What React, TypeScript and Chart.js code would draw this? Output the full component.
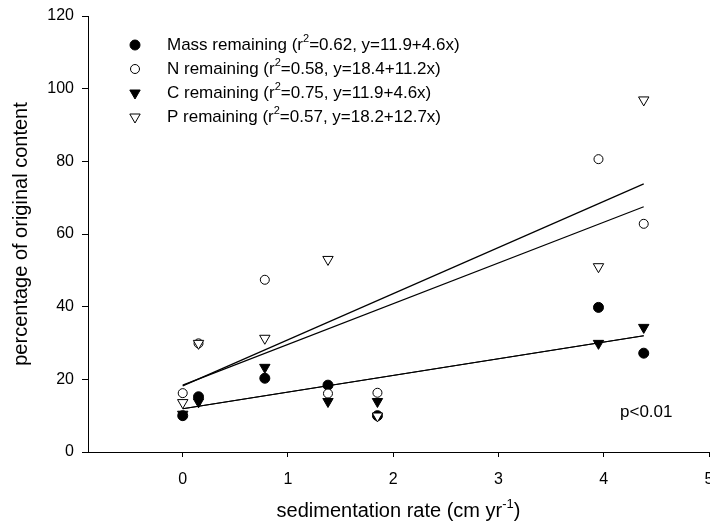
import React, { useEffect, useRef } from 'react';
import { Chart, registerables } from 'chart.js';

Chart.register(...registerables);

// ---- data ----
const sedimentationRate = [0, 0.15, 0.78, 1.38, 1.85, 3.95, 4.38];
const massRemaining = [10.0, 15.2, 20.3, 18.4, 10.0, 39.8, 27.2];
const nRemaining = [16.2, 29.9, 47.4, 16.1, 16.3, 80.6, 62.8];
const cRemaining = [10.4, 13.8, 23.3, 13.9, 13.9, 29.9, 34.3];
const pRemaining = [13.6, 29.9, 31.3, 53.0, 9.9, 51.0, 96.9];

// regression line end points (x from 0 to 4.38)
const fitX = [0, 4.38];
const massFit = [11.9, 32.0];
const nFit = [18.4, 67.5];
const cFit = [11.9, 32.0];
const pFit = [18.2, 73.8];

const xTicks = [0, 1, 2, 3, 4, 5];
const yTicks = [0, 20, 40, 60, 80, 100, 120];

const seriesNames = ['Mass remaining', 'N remaining', 'C remaining', 'P remaining'];
const seriesR2 = ['0.62', '0.58', '0.75', '0.57'];
const seriesEq = ['y=11.9+4.6x', 'y=18.4+11.2x', 'y=11.9+4.6x', 'y=18.2+12.7x'];

const xTitle = 'sedimentation rate (cm yr';
const xTitleSup = '-1';
const yTitle = 'percentage of original content';
const pText = 'p<0.01';

const FONT = "'Liberation Sans', Arial, Helvetica, sans-serif";

type MarkerStyle = { shape: 'circle' | 'triangle'; filled: boolean };
const markerStyles: MarkerStyle[] = [
  { shape: 'circle', filled: true },
  { shape: 'circle', filled: false },
  { shape: 'triangle', filled: true },
  { shape: 'triangle', filled: false },
];

function toPoints(xs: number[], ys: number[]) {
  return xs.map((x, i) => ({ x, y: ys[i] }));
}

function drawMarker(ctx: CanvasRenderingContext2D, m: MarkerStyle, x: number, y: number) {
  ctx.save();
  ctx.lineWidth = 1;
  ctx.strokeStyle = '#000';
  ctx.fillStyle = m.filled ? '#000' : '#fff';
  ctx.beginPath();
  if (m.shape === 'circle') {
    ctx.arc(x, y, m.filled ? 5 : 4.5, 0, Math.PI * 2);
  } else {
    const r = 6;
    ctx.moveTo(x, y + r);
    ctx.lineTo(x - r * Math.sin(Math.PI / 3), y - r / 2);
    ctx.lineTo(x + r * Math.sin(Math.PI / 3), y - r / 2);
    ctx.closePath();
  }
  ctx.fill();
  ctx.stroke();
  ctx.restore();
}

type Part = { t: string; sup?: boolean };
function richWidth(ctx: CanvasRenderingContext2D, parts: Part[], size: number, supSize: number) {
  let w = 0;
  for (const p of parts) {
    ctx.font = `${p.sup ? supSize : size}px ${FONT}`;
    w += ctx.measureText(p.t).width;
  }
  return w;
}
function drawRich(ctx: CanvasRenderingContext2D, parts: Part[], x: number, y: number, size: number, supSize: number, rise: number) {
  ctx.textAlign = 'left';
  ctx.textBaseline = 'middle';
  let cx = x;
  for (const p of parts) {
    ctx.font = `${p.sup ? supSize : size}px ${FONT}`;
    ctx.fillText(p.t, cx, p.sup ? y - rise : y);
    cx += ctx.measureText(p.t).width;
  }
}

const textPlugin = {
  id: 'textPlugin',
  afterDraw(chart: any) {
    const ctx: CanvasRenderingContext2D = chart.ctx;
    const area = chart.chartArea;
    ctx.save();
    ctx.fillStyle = '#000';

    // legend
    const mx = area.left + 47;
    const tx = area.left + 79;
    const y0 = area.top + 29;
    const dy = 24;
    seriesNames.forEach((name, i) => {
      const y = y0 + i * dy;
      drawMarker(ctx, markerStyles[i], mx, y);
      ctx.fillStyle = '#000';
      drawRich(
        ctx,
        [
          { t: `${name} (r` },
          { t: '2', sup: true },
          { t: `=${seriesR2[i]}, ${seriesEq[i]})` },
        ],
        tx,
        y,
        17,
        11,
        6
      );
    });

    // p value
    ctx.fillStyle = '#000';
    ctx.font = `17px ${FONT}`;
    ctx.textAlign = 'left';
    ctx.textBaseline = 'middle';
    ctx.fillText(pText, area.left + 532, area.bottom - 40);

    // x title
    const xParts: Part[] = [{ t: xTitle }, { t: xTitleSup, sup: true }, { t: ')' }];
    const w = richWidth(ctx, xParts, 20, 13);
    const cx = (area.left + area.right) / 2;
    drawRich(ctx, xParts, cx - w / 2, chart.height - 18, 20, 13, 7);

    // y title
    ctx.save();
    ctx.translate(21, (area.top + area.bottom) / 2);
    ctx.rotate(-Math.PI / 2);
    ctx.font = `20px ${FONT}`;
    ctx.textAlign = 'center';
    ctx.textBaseline = 'middle';
    ctx.fillText(yTitle, 0, 0);
    ctx.restore();

    ctx.restore();
  },
};

export default function App() {
  const canvasRef = useRef<HTMLCanvasElement | null>(null);

  useEffect(() => {
    document.body.style.margin = '0';
    const canvas = canvasRef.current;
    if (!canvas) return;

    const lineDs = (label: string, ys: number[]) => ({
      type: 'scatter' as const,
      label,
      data: toPoints(fitX, ys),
      showLine: true,
      borderColor: '#000',
      borderWidth: 1.2,
      pointRadius: 0,
      pointHoverRadius: 0,
      fill: false,
      order: 10,
    });

    const pointDs = (label: string, ys: number[], m: MarkerStyle, order: number) => ({
      type: 'scatter' as const,
      label,
      data: toPoints(sedimentationRate, ys),
      showLine: false,
      pointStyle: m.shape,
      rotation: m.shape === 'triangle' ? 180 : 0,
      pointRadius: m.shape === 'triangle' ? 6 : m.filled ? 5 : 4.5,
      pointBorderWidth: 1,
      pointBorderColor: '#000',
      pointBackgroundColor: m.filled ? '#000' : '#fff',
      borderColor: '#000',
      backgroundColor: m.filled ? '#000' : '#fff',
      order,
    });

    const chart = new Chart(canvas, {
      type: 'scatter',
      data: {
        datasets: [
          lineDs('Mass fit', massFit),
          lineDs('N fit', nFit),
          lineDs('C fit', cFit),
          lineDs('P fit', pFit),
          pointDs(seriesNames[0], massRemaining, markerStyles[0], 4),
          pointDs(seriesNames[1], nRemaining, markerStyles[1], 3),
          pointDs(seriesNames[2], cRemaining, markerStyles[2], 2),
          pointDs(seriesNames[3], pRemaining, markerStyles[3], 1),
        ],
      },
      options: {
        responsive: false,
        animation: false,
        events: [],
        layout: { autoPadding: false, padding: { top: 16, right: 1, left: 0, bottom: 0 } },
        plugins: {
          legend: { display: false },
          tooltip: { enabled: false },
          title: { display: false },
        },
        scales: {
          x: {
            type: 'linear',
            min: -0.9,
            max: 5,
            afterBuildTicks: (s: any) => {
              s.ticks = xTicks.map((v) => ({ value: v }));
            },
            afterFit: (s: any) => {
              s.height = 77;
              s.paddingLeft = 0;
              s.paddingRight = 0;
            },
            grid: {
              display: true,
              drawOnChartArea: false,
              drawTicks: true,
              tickLength: 5,
              color: '#000',
              tickColor: '#000',
              lineWidth: 1,
            },
            border: { display: true, color: '#000', width: 1 },
            ticks: {
              color: '#000',
              font: { family: FONT, size: 16 },
              padding: 13,
              maxRotation: 0,
              autoSkip: false,
            },
          },
          y: {
            type: 'linear',
            min: 0,
            max: 120,
            afterBuildTicks: (s: any) => {
              s.ticks = yTicks.map((v) => ({ value: v }));
            },
            afterFit: (s: any) => {
              s.width = 88;
              s.paddingTop = 0;
              s.paddingBottom = 0;
            },
            grid: {
              display: true,
              drawOnChartArea: false,
              drawTicks: true,
              tickLength: 6,
              color: '#000',
              tickColor: '#000',
              lineWidth: 1,
            },
            border: { display: true, color: '#000', width: 1 },
            ticks: {
              color: '#000',
              font: { family: FONT, size: 16 },
              padding: 8,
              autoSkip: false,
            },
          },
        },
      },
      plugins: [textPlugin],
    } as any);

    return () => chart.destroy();
  }, []);

  return (
    <div style={{ width: 710, height: 529 }}>
      <canvas ref={canvasRef} width={710} height={529} style={{ display: 'block' }} />
    </div>
  );
}
